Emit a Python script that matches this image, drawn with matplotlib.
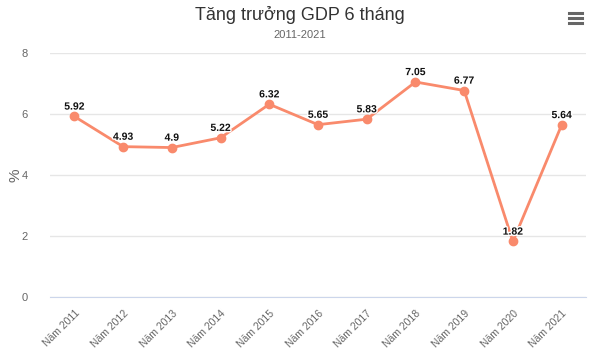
import matplotlib.pyplot as plt
import matplotlib.patheffects as pe

plt.rcParams["font.family"] = ["Liberation Sans", "DejaVu Sans"]

years = ["Năm 2011", "Năm 2012", "Năm 2013", "Năm 2014", "Năm 2015", "Năm 2016",
         "Năm 2017", "Năm 2018", "Năm 2019", "Năm 2020", "Năm 2021"]
gdp = [5.92, 4.93, 4.9, 5.22, 6.32, 5.65, 5.83, 7.05, 6.77, 1.82, 5.64]
labels = ["5.92", "4.93", "4.9", "5.22", "6.32", "5.65", "5.83", "7.05", "6.77", "1.82", "5.64"]
yticks = [0, 2, 4, 6, 8]

line_color = "#f98a6c"

fig = plt.figure(figsize=(6, 3.57), dpi=100)
ax = fig.add_axes([50 / 600, 1 - 297 / 357, 536 / 600, 244 / 357])

x = list(range(len(years)))
ax.plot(x, gdp, color=line_color, lw=2, marker="o", ms=6, zorder=3, clip_on=False)

for xi, yi, lab in zip(x, gdp, labels):
    ax.annotate(lab, (xi, yi), xytext=(0, 3.5), textcoords="offset points",
                ha="center", va="bottom", fontsize=7.5, fontweight="bold", color="#111111",
                path_effects=[pe.withStroke(linewidth=2, foreground="white")], zorder=4)

ax.set_xlim(-0.5, len(years) - 0.5)
ax.set_ylim(0, 8)
ax.set_yticks(yticks)
ax.set_yticklabels([str(t) for t in yticks], fontsize=8, color="#666666")
ax.set_xticks(x)
ax.set_xticklabels(years, rotation=45, ha="right", rotation_mode="anchor",
                   fontsize=7.5, color="#666666")
ax.tick_params(axis="y", length=0, pad=16)
ax.tick_params(axis="x", length=0, pad=8)

ax.grid(axis="y", color="#e6e6e6", lw=1)
ax.set_axisbelow(True)
for s in ["top", "right", "left"]:
    ax.spines[s].set_visible(False)
ax.spines["bottom"].set_color("#ccd6eb")

fig.text(15 / 600, 1 - 175 / 357, "%", rotation=90, ha="center", va="center",
         fontsize=11, color="#666666")

fig.text(0.5, 1 - 15 / 357, "Tăng trưởng GDP 6 tháng", ha="center", va="center",
         fontsize=13, color="#333333")
fig.text(0.5, 1 - 35 / 357, "2011-2021", ha="center", va="center",
         fontsize=8, color="#666666")

# menu icon
for dy in (13, 18, 23):
    fig.add_artist(plt.Line2D([569 / 600, 582 / 600], [1 - dy / 357] * 2,
                              color="#666666", lw=2.2))

fig.savefig("out.png", dpi=100)
